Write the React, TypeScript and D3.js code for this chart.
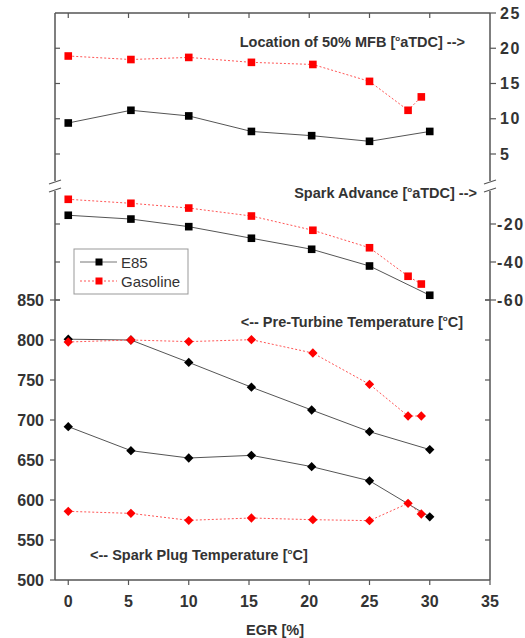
import React from 'react';
import * as d3 from 'd3';

// EGR positions of the measured points
const EGR_E85 = [0, 5.2, 10, 15.2, 20.2, 25, 30];
const EGR_GAS = [0, 5.2, 10, 15.2, 20.3, 25, 28.2, 29.3];

// Location of 50% MFB [deg aTDC]
const MFB_E85 = [9.4, 11.2, 10.4, 8.2, 7.6, 6.8, 8.2];
const MFB_GAS = [18.9, 18.4, 18.7, 18.0, 17.7, 15.3, 11.2, 13.1];

// Spark advance [deg aTDC]
const ADV_E85 = [-15.4, -17.4, -21.4, -27.5, -33.3, -42.1, -57.5];
const ADV_GAS = [-7.0, -9.1, -11.6, -15.8, -23.3, -32.5, -47.5, -51.6];

// Pre-turbine temperature [C]
const PRE_E85 = [801, 800, 772, 741, 712.5, 685.4, 663];
const PRE_GAS = [797.5, 800, 798, 800.4, 783.7, 744.6, 705, 705];

// Spark plug temperature [C]
const PLUG_E85 = [691.7, 661.7, 652.5, 655.8, 641.7, 624, 579];
const PLUG_GAS = [585.8, 583.3, 574.6, 577.5, 575.4, 574.2, 595.8, 582.5];

const X_TICKS = [0, 5, 10, 15, 20, 25, 30, 35];
const TEMP_TICKS = [500, 550, 600, 650, 700, 750, 800, 850];
const MFB_TICKS = [5, 10, 15, 20, 25];
const ADV_TICKS = [-20, -40, -60];

const W = 525;
const H = 638;
const L = 55;
const R = 490;
const T = 13;
const B = 580;
const BREAK_TOP = 181;
const BREAK_BOT = 191;

const FONT = '"Liberation Sans", Arial, sans-serif';
const TXT = '#333';
const AXIS = '#555';

const x = d3.scaleLinear().domain([-1.1, 35]).range([L, R]);
const yMfb = d3.scaleLinear().domain([5, 25]).range([154, T]);
const yAdv = d3.scaleLinear().domain([-60, -20]).range([300, 224]);
const yTemp = d3.scaleLinear().domain([500, 850]).range([B, 300]);

type Pt = [number, number];

function pts(xs: number[], ys: number[]): Pt[] {
  return xs.map((v, i) => [v, ys[i]]);
}

function Series({ data, y, color, dashed, shape }: {
  data: Pt[]; y: d3.ScaleLinear<number, number>; color: string; dashed: boolean; shape: 'square' | 'diamond';
}) {
  const line = d3.line<Pt>().x(d => x(d[0])).y(d => y(d[1]));
  return (
    <g>
      <path
        d={line(data) || ''}
        fill="none"
        stroke={dashed ? '#ff5555' : '#555'}
        strokeWidth={1}
        strokeDasharray={dashed ? '2,2' : undefined}
      />
      {data.map((d, i) => {
        const cx = x(d[0]);
        const cy = y(d[1]);
        return shape === 'square'
          ? <rect key={i} x={cx - 3.8} y={cy - 3.8} width={7.6} height={7.6} fill={color} />
          : <rect key={i} x={-3.3} y={-3.3} width={6.6} height={6.6} fill={color}
              transform={`translate(${cx},${cy}) rotate(45)`} />;
      })}
    </g>
  );
}

function Label({ x: lx, y: ly, anchor, pre, post }: { x: number; y: number; anchor: string; pre: string; post: string }) {
  return (
    <text x={lx} y={ly} textAnchor={anchor} fontFamily={FONT} fontWeight="bold" fontSize={14.5} fill={TXT}>
      {pre}
      <tspan fontSize={8} dy={-6}>o</tspan>
      <tspan dy={6}>{post}</tspan>
    </text>
  );
}

function BreakMark({ cx }: { cx: number }) {
  return (
    <g stroke={AXIS} strokeWidth={1.2}>
      <line x1={cx - 6} y1={BREAK_TOP + 3} x2={cx + 6} y2={BREAK_TOP - 1} />
      <line x1={cx - 6} y1={BREAK_BOT + 1} x2={cx + 6} y2={BREAK_BOT - 3} />
    </g>
  );
}

export default function App() {
  const tick = { stroke: AXIS, strokeWidth: 1.2 };
  return (
    <svg width={W} height={H} style={{ position: 'absolute', left: 0, top: 0, background: '#fff' }}>
      {/* frame */}
      <g stroke={AXIS} strokeWidth={1.5} fill="none">
        <line x1={L} y1={T} x2={R} y2={T} />
        <line x1={L} y1={B} x2={R} y2={B} />
        <line x1={L} y1={T} x2={L} y2={BREAK_TOP} />
        <line x1={L} y1={BREAK_BOT} x2={L} y2={B} />
        <line x1={R} y1={T} x2={R} y2={BREAK_TOP} />
        <line x1={R} y1={BREAK_BOT} x2={R} y2={B} />
      </g>
      <BreakMark cx={L} />
      <BreakMark cx={R} />

      {/* x ticks: outward at bottom, inward at top */}
      {X_TICKS.map(t => (
        <g key={'x' + t}>
          <line x1={x(t)} x2={x(t)} y1={B} y2={B + 5} {...tick} />
          {t < 35 && <line x1={x(t)} x2={x(t)} y1={T} y2={T + 5} {...tick} />}
          <text x={x(t)} y={B + 27} textAnchor="middle" fontFamily={FONT} fontWeight="bold" fontSize={16} fill={TXT}>{t}</text>
        </g>
      ))}

      {/* temperature axis (left) */}
      {TEMP_TICKS.map(t => (
        <g key={'t' + t}>
          <line x1={L - 5} x2={L} y1={yTemp(t)} y2={yTemp(t)} {...tick} />
          {t > 500 && <line x1={R - 5} x2={R} y1={yTemp(t)} y2={yTemp(t)} {...tick} />}
          {t === 850 && <line x1={L} x2={L + 5} y1={yTemp(t)} y2={yTemp(t)} {...tick} />}
          <text x={L - 11} y={yTemp(t) + 5.5} textAnchor="end" fontFamily={FONT} fontWeight="bold" fontSize={16} fill={TXT}>{t}</text>
        </g>
      ))}

      {/* MFB axis (right, top) */}
      {MFB_TICKS.map(t => (
        <g key={'m' + t}>
          <line x1={R} x2={R + 6} y1={yMfb(t)} y2={yMfb(t)} {...tick} />
          {t < 25 && <line x1={L} x2={L + 5} y1={yMfb(t)} y2={yMfb(t)} {...tick} />}
          <text x={R + 10} y={yMfb(t) + 5.5} textAnchor="start" fontFamily={FONT} fontWeight="bold" fontSize={16} letterSpacing={1.5} fill={TXT}>{t}</text>
        </g>
      ))}

      {/* spark advance axis (right, middle) */}
      {ADV_TICKS.map(t => (
        <g key={'a' + t}>
          <line x1={R} x2={R + 6} y1={yAdv(t)} y2={yAdv(t)} {...tick} />
          <line x1={L} x2={L + 5} y1={yAdv(t)} y2={yAdv(t)} {...tick} />
          {t === -60 && <line x1={R - 5} x2={R} y1={yAdv(t)} y2={yAdv(t)} {...tick} />}
          <text x={R + 7} y={yAdv(t) + 5.5} textAnchor="start" fontFamily={FONT} fontWeight="bold" fontSize={16} letterSpacing={1.5} fill={TXT}>{t}</text>
        </g>
      ))}

      {/* data */}
      <Series data={pts(EGR_E85, MFB_E85)} y={yMfb} color="#000" dashed={false} shape="square" />
      <Series data={pts(EGR_GAS, MFB_GAS)} y={yMfb} color="#ff0000" dashed={true} shape="square" />
      <Series data={pts(EGR_E85, ADV_E85)} y={yAdv} color="#000" dashed={false} shape="square" />
      <Series data={pts(EGR_GAS, ADV_GAS)} y={yAdv} color="#ff0000" dashed={true} shape="square" />
      <Series data={pts(EGR_E85, PRE_E85)} y={yTemp} color="#000" dashed={false} shape="diamond" />
      <Series data={pts(EGR_GAS, PRE_GAS)} y={yTemp} color="#ff0000" dashed={true} shape="diamond" />
      <Series data={pts(EGR_E85, PLUG_E85)} y={yTemp} color="#000" dashed={false} shape="diamond" />
      <Series data={pts(EGR_GAS, PLUG_GAS)} y={yTemp} color="#ff0000" dashed={true} shape="diamond" />

      {/* annotations */}
      <Label x={465} y={47} anchor="end" pre="Location of 50% MFB [" post="aTDC] -->" />
      <Label x={477} y={198} anchor="end" pre="Spark Advance [" post="aTDC] -->" />
      <Label x={463} y={327} anchor="end" pre="<-- Pre-Turbine Temperature [" post="C]" />
      <Label x={90} y={560} anchor="start" pre="<-- Spark Plug Temperature [" post="C]" />

      <text x={275} y={635} textAnchor="middle" fontFamily={FONT} fontWeight="bold" fontSize={14.5} fill={TXT}>EGR [%]</text>

      {/* legend */}
      <rect x={74} y={249} width={114} height={45} fill="#fff" stroke="#999" strokeWidth={1} />
      <line x1={80} x2={117} y1={262} y2={262} stroke="#777" strokeWidth={1} />
      <rect x={95.5} y={258.5} width={7} height={7} fill="#000" />
      <text x={121} y={267.5} fontFamily={FONT} fontSize={15} fill={TXT}>E85</text>
      <line x1={80} x2={117} y1={281} y2={281} stroke="#ff5555" strokeWidth={1} strokeDasharray="2,2" />
      <rect x={95.5} y={277.5} width={7} height={7} fill="#ff0000" />
      <text x={121} y={286.5} fontFamily={FONT} fontSize={15} fill={TXT}>Gasoline</text>
    </svg>
  );
}
